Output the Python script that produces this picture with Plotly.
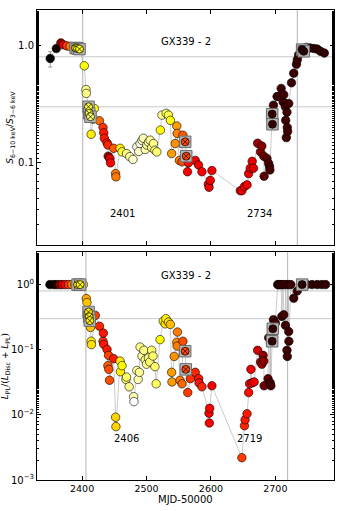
import plotly.graph_objects as go
from plotly.subplots import make_subplots

# %%
# top panel: hardness S(6-10 keV)/S(3-6 keV)
hr_mjd = [2350.5, 2360, 2367, 2371, 2376.5, 2381.6, 2387, 2390, 2393, 2396,
          2403.4, 2406, 2406.5, 2410, 2411, 2413, 2414, 2417, 2419, 2427,
          2432.5, 2433.6, 2434.5, 2438.7, 2440, 2440.5, 2443, 2444, 2449, 2452,
          2452.5, 2459, 2462, 2469, 2474, 2479, 2485, 2488, 2490, 2493,
          2495, 2498, 2500.5, 2503, 2505.6, 2508, 2510.7, 2513, 2516, 2521.5,
          2524, 2530.5, 2534, 2537, 2539, 2544.5, 2547, 2547.5, 2551, 2555,
          2556.5, 2560, 2561.6, 2563.6, 2565, 2575.6, 2580.7, 2586, 2596, 2597,
          2599, 2601.5, 2645.6, 2648, 2652, 2656, 2658.5, 2661, 2664, 2666,
          2672.5, 2677, 2679, 2682, 2682.5, 2687, 2689.6, 2691, 2691.5, 2695,
          2695.5, 2697, 2702.6, 2705, 2709, 2712, 2713, 2715.6, 2716, 2717,
          2718, 2718.5, 2719, 2720.7, 2725, 2728.5, 2732.7, 2734, 2736, 2741.5,
          2744, 2748, 2754, 2760, 2765, 2770, 2776]
hr_val = [0.774, 0.94, 1.05, 1.01, 0.99, 0.98, 0.97, 0.95, 0.94, 0.93,
          0.67, 0.42, 0.39, 0.30, 0.264, 0.247, 0.175, 0.235, 0.29, 0.228,
          0.20, 0.18, 0.162, 0.148, 0.142, 0.114, 0.109, 0.10, 0.133, 0.081,
          0.076, 0.133, 0.124, 0.12, 0.113, 0.107, 0.137, 0.125, 0.146, 0.155,
          0.162, 0.13, 0.142, 0.15, 0.156, 0.135, 0.146, 0.128, 0.124, 0.19,
          0.255, 0.264, 0.255, 0.23, 0.12, 0.146, 0.206, 0.178, 0.105, 0.102,
          0.172, 0.151, 0.114, 0.084, 0.10, 0.105, 0.096, 0.084, 0.066, 0.062,
          0.071, 0.086, 0.058, 0.058, 0.063, 0.065, 0.081, 0.09, 0.103, 0.09,
          0.147, 0.124, 0.139, 0.114, 0.077, 0.109, 0.099, 0.093, 0.087, 0.26,
          0.213, 0.31, 0.367, 0.367, 0.43, 0.33, 0.38, 0.30, 0.23, 0.164,
          0.27, 0.20, 0.185, 0.32, 0.48, 0.58, 0.69, 0.755, 0.83, 0.92,
          0.89, 0.96, 0.95, 0.94, 0.93, 0.89, 0.86]
hr_col = [0.0, 0.02, 0.2, 0.33, 0.45, 0.55, 0.65, 0.72, 0.75, 0.78,
          0.75, 0.88, 0.88, 0.8, 0.82, 0.85, 0.72, 0.86, 0.76, 0.52,
          0.44, 0.4, 0.4, 0.4, 0.42, 0.22, 0.33, 0.36, 0.5, 0.55,
          0.55, 0.72, 0.8, 0.88, 0.9, 0.95, 0.97, 0.95, 0.98, 0.95,
          0.92, 0.92, 0.9, 0.9, 0.9, 0.88, 0.88, 0.86, 0.86, 0.74,
          0.88, 0.86, 0.82, 0.76, 0.6, 0.58, 0.6, 0.56, 0.55, 0.48,
          0.5, 0.47, 0.47, 0.36, 0.38, 0.35, 0.35, 0.36, 0.34, 0.34,
          0.34, 0.35, 0.34, 0.34, 0.34, 0.35, 0.34, 0.33, 0.33, 0.32,
          0.22, 0.2, 0.19, 0.16, 0.13, 0.13, 0.11, 0.1, 0.1, 0.09,
          0.09, 0.09, 0.09, 0.09, 0.09, 0.09, 0.09, 0.09, 0.09, 0.09,
          0.09, 0.09, 0.09, 0.09, 0.08, 0.08, 0.08, 0.08, 0.08, 0.07,
          0.07, 0.07, 0.07, 0.07, 0.07, 0.07, 0.07]
hr_box = [2390, 2393, 2396, 2410, 2411, 2413, 2560, 2561.6, 2695, 2695.5, 2741.5, 2744]
hr_err = {2350.5: (0.11, 0.12)}

# bottom panel: power-law fraction L_PL/(L_Disc+L_PL)
pl_mjd = [2350, 2356, 2360, 2365, 2369, 2374, 2379, 2384, 2389, 2393,
          2397, 2402, 2406.5, 2407.6, 2410, 2411, 2412, 2413, 2414, 2414.5,
          2420.5, 2427, 2432.5, 2433, 2433.6, 2438.7, 2440, 2441, 2441.5, 2442.6,
          2449, 2452, 2452.5, 2459, 2459.5, 2462, 2468, 2469, 2473, 2480,
          2480.5, 2485, 2487, 2489, 2490, 2493, 2496, 2498, 2500, 2503,
          2505, 2508, 2510, 2513, 2515, 2521, 2526, 2529, 2530, 2534,
          2537, 2539, 2539.5, 2543, 2547, 2547.5, 2548, 2552, 2555, 2556.5,
          2560, 2561, 2564, 2568, 2575.6, 2581, 2581.5, 2586, 2597, 2597.5,
          2598, 2601.5, 2648, 2652, 2653, 2656, 2658.5, 2660, 2662, 2663.8,
          2667, 2672.5, 2677, 2679, 2681, 2682, 2682.5, 2688.6, 2689.6, 2692,
          2692.5, 2693, 2695, 2696, 2697, 2700, 2703.6, 2705, 2707, 2709,
          2710, 2712, 2713, 2715.6, 2716, 2718, 2718.5, 2720, 2720.7, 2721,
          2724, 2728.5, 2734, 2741.5, 2749, 2757, 2765, 2772, 2778]
pl_val = [1.0, 1.0, 1.0, 1.0, 1.0, 1.0, 1.0, 1.0, 1.0, 1.0,
          1.0, 1.0, 0.61, 0.53, 0.38, 0.32, 0.28, 0.22, 0.135, 0.12,
          0.337, 0.23, 0.135, 0.18, 0.121, 0.101, 0.057, 0.082, 0.05, 0.034,
          0.073, 0.0092, 0.0066, 0.067, 0.046, 0.057, 0.035, 0.038, 0.027, 0.019,
          0.016, 0.048, 0.035, 0.045, 0.11, 0.08, 0.098, 0.07, 0.06, 0.075,
          0.065, 0.098, 0.08, 0.055, 0.03, 0.143, 0.275, 0.25, 0.30, 0.266,
          0.245, 0.045, 0.032, 0.079, 0.13, 0.114, 0.187, 0.034, 0.03, 0.135,
          0.095, 0.05, 0.022, 0.036, 0.045, 0.036, 0.031, 0.027, 0.0106, 0.0075,
          0.0126, 0.028, 0.0022, 0.0068, 0.0084, 0.0104, 0.022, 0.03, 0.05, 0.031,
          0.032, 0.098, 0.065, 0.06, 0.082, 0.067, 0.028, 0.036, 0.153, 0.031,
          0.131, 0.028, 0.135, 0.21, 0.29, 0.257, 1.0, 1.0, 1.0, 1.0,
          0.325, 1.0, 0.345, 0.237, 1.0, 0.098, 0.079, 1.0, 0.19, 0.135,
          1.0, 0.62, 0.8, 1.0, 1.0, 1.0, 1.0, 1.0, 1.0]
pl_col = [0.0, 0.02, 0.05, 0.2, 0.3, 0.36, 0.45, 0.55, 0.62, 0.7,
          0.74, 0.88, 0.62, 0.66, 0.72, 0.72, 0.72, 0.65, 0.72, 0.7,
          0.46, 0.42, 0.44, 0.4, 0.4, 0.4, 0.5, 0.46, 0.48, 0.48,
          0.4, 0.68, 0.68, 0.72, 0.72, 0.74, 0.85, 0.85, 0.88, 0.92,
          1.0, 0.9, 0.92, 0.9, 0.88, 0.9, 0.88, 0.88, 0.88, 0.88,
          0.86, 0.86, 0.85, 0.85, 0.84, 0.74, 0.74, 0.7, 0.72, 0.7,
          0.65, 0.6, 0.6, 0.58, 0.58, 0.55, 0.55, 0.55, 0.52, 0.48,
          0.47, 0.47, 0.45, 0.44, 0.42, 0.4, 0.4, 0.42, 0.36, 0.36,
          0.36, 0.36, 0.45, 0.42, 0.4, 0.4, 0.38, 0.36, 0.34, 0.35,
          0.35, 0.3, 0.25, 0.22, 0.2, 0.2, 0.16, 0.13, 0.11, 0.11,
          0.1, 0.1, 0.09, 0.09, 0.09, 0.09, 0.08, 0.08, 0.09, 0.09,
          0.09, 0.09, 0.09, 0.09, 0.09, 0.09, 0.09, 0.09, 0.09, 0.09,
          0.08, 0.08, 0.08, 0.07, 0.07, 0.07, 0.07, 0.07, 0.07]
pl_box = [2393, 2397, 2410, 2411, 2412, 2560, 2561, 2695, 2696, 2741.5]

# reference lines (MJD of transitions) and levels
hr_vlines = [2401, 2734]
pl_vlines = [2406, 2719]
hlevels = [0.8, 0.3]

HOT = [[0, "#000000"], [0.365, "#ff0000"], [0.746, "#ffff00"], [1, "#ffffff"]]
FONT = "DejaVu Sans"

# %%


def add_panel(fig, row, mjd, val, col, box, err=None):
    fig.add_trace(go.Scatter(x=mjd, y=val, mode="lines",
                             line=dict(color="#b4b4b4", width=0.7),
                             hoverinfo="skip"), row=row, col=1)
    plain = [i for i, m in enumerate(mjd) if m not in box]
    boxed = [i for i, m in enumerate(mjd) if m in box]
    eu = [0] * len(mjd)
    ed = [0] * len(mjd)
    if err:
        for i, m in enumerate(mjd):
            if m in err:
                eu[i], ed[i] = err[m]
    fig.add_trace(go.Scatter(
        x=[mjd[i] for i in plain], y=[val[i] for i in plain], mode="markers",
        error_y=dict(type="data", array=[eu[i] for i in plain],
                     arrayminus=[ed[i] for i in plain],
                     color="#999999", thickness=1, width=2),
        marker=dict(size=8.5, color=[col[i] for i in plain], colorscale=HOT,
                    cmin=0, cmax=1, line=dict(color="black", width=0.6))),
        row=row, col=1)
    fig.add_trace(go.Scatter(
        x=[mjd[i] for i in boxed], y=[val[i] for i in boxed], mode="markers",
        marker=dict(symbol="square", size=11.5, color="#b4b4b4",
                    line=dict(color="#6a6a6a", width=1))), row=row, col=1)
    fig.add_trace(go.Scatter(
        x=[mjd[i] for i in boxed], y=[val[i] for i in boxed], mode="markers",
        marker=dict(symbol="circle-x", size=8, color=[col[i] for i in boxed],
                    colorscale=HOT, cmin=0, cmax=1,
                    line=dict(color="black", width=0.7))), row=row, col=1)


fig = make_subplots(rows=2, cols=1, shared_xaxes=True)
add_panel(fig, 1, hr_mjd, hr_val, hr_col, hr_box, hr_err)
add_panel(fig, 2, pl_mjd, pl_val, pl_col, pl_box)

for r, vl in [(1, hr_vlines), (2, pl_vlines)]:
    for v in vl:
        fig.add_vline(x=v, line=dict(color="#b4b4b4", width=1), layer="below",
                      row=r, col=1)
    for h in hlevels:
        fig.add_hline(y=h, line=dict(color="#c8c8c8", width=1), layer="below",
                      row=r, col=1)

txt = dict(showarrow=False, font=dict(family=FONT, size=10, color="black"))
fig.add_annotation(text="GX339 - 2", xref="x domain", yref="y domain",
                   x=0.5, y=0.9, **txt)
fig.add_annotation(text="2401", xref="x domain", yref="y domain",
                   x=0.239, y=0.102, **txt)
fig.add_annotation(text="2734", xref="x domain", yref="y domain",
                   x=0.798, y=0.102, **txt)
fig.add_annotation(text="GX339 - 2", xref="x2 domain", yref="y2 domain",
                   x=0.5, y=0.93, **txt)
fig.add_annotation(text="2406", xref="x2 domain", yref="y2 domain",
                   x=0.2525, y=0.149, **txt)
fig.add_annotation(text="2719", xref="x2 domain", yref="y2 domain",
                   x=0.764, y=0.149, **txt)
# x-axis title, placed just under the tick labels
fig.add_annotation(text="MJD-50000", xref="x2 domain", yref="paper",
                   x=0.5, y=-0.041, yanchor="middle", **txt)

ax = dict(showline=True, linecolor="black", linewidth=1, mirror="ticks",
          ticks="inside", ticklen=4, tickcolor="black", showgrid=False,
          zeroline=False, automargin=False,
          tickfont=dict(family=FONT, size=10, color="black"))
fig.update_xaxes(**ax, range=[2330, 2791], tickvals=[2400, 2500, 2600, 2700])
fig.update_xaxes(showticklabels=False, row=1, col=1)
fig.update_xaxes(tickfont=dict(size=9.5), row=2, col=1)
fig.update_yaxes(**ax, type="log",
                 minor=dict(ticks="inside", ticklen=2, tickcolor="black",
                            showgrid=False))
fig.update_yaxes(range=[-1.699, 0.301], tickvals=[0.1, 1.0],
                 ticktext=["0.1", "1.0"], domain=[0.5, 1.0],
                 title=dict(text="<i>S</i><sub>6−10 keV</sub>/<i>S</i><sub>3−6 keV</sub>",
                            standoff=2, font=dict(family=FONT, size=9)),
                 row=1, col=1)
fig.update_yaxes(range=[-3, 0.5], tickvals=[0.001, 0.01, 0.1, 1],
                 ticktext=["10<sup>−3</sup>", "10<sup>−2</sup>",
                           "10<sup>−1</sup>", "10<sup>0</sup>"],
                 domain=[0, 0.485],
                 title=dict(text="<i>L</i><sub>PL</sub>/(<i>L</i><sub>Disc</sub> + <i>L</i><sub>PL</sub>)",
                            standoff=2, font=dict(family=FONT, size=9)),
                 row=2, col=1)

fig.update_layout(
    width=341, height=511,
    margin=dict(l=37, r=7, t=10, b=31, autoexpand=False),
    plot_bgcolor="white", paper_bgcolor="white",
    showlegend=False,
    font=dict(family=FONT, color="black"),
)

# the page body has a default margin; drop it so the figure fills the window
fig.write_html("out.html", config={"displayModeBar": False},
               post_script="document.body.style.margin='0';"
                           "document.body.style.overflow='hidden';")
